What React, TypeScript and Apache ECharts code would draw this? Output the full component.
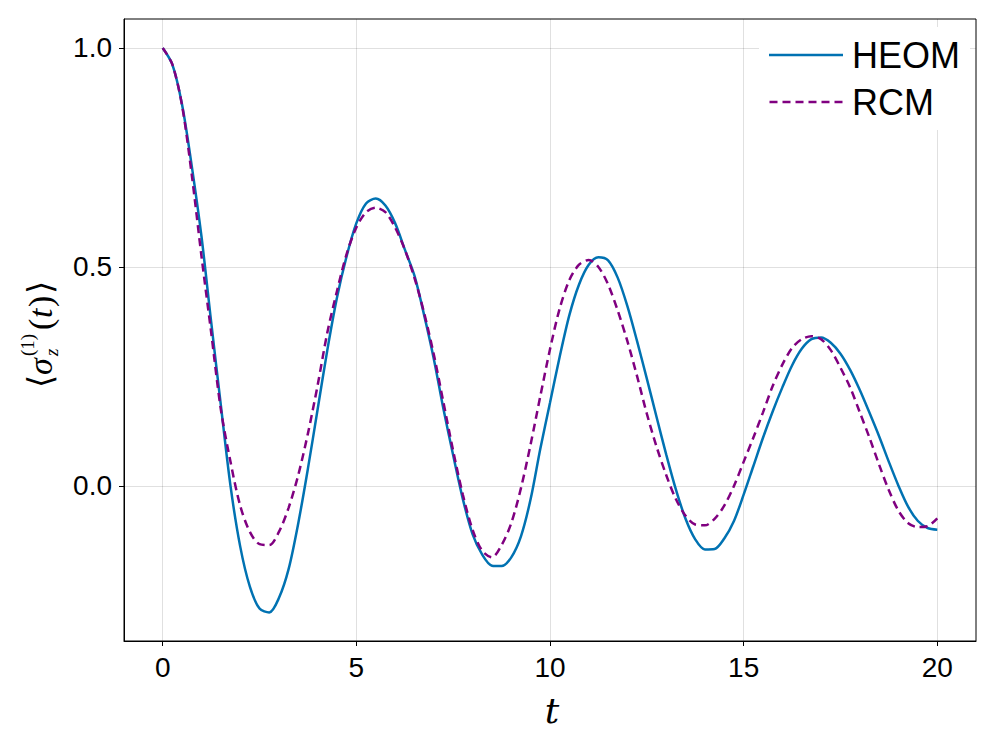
import React, { useEffect, useRef } from "react";
import * as echarts from "echarts";

const timeGrid = [
  0, 0.25, 0.5, 0.75, 1, 1.25, 1.5, 1.75, 2, 2.25, 2.5, 2.75, 3, 3.25, 3.5, 3.75,
  4, 4.25, 4.5, 4.75, 5, 5.25, 5.5, 5.75, 6, 6.25, 6.5, 6.75, 7, 7.25, 7.5, 7.75,
  8, 8.25, 8.5, 8.75, 9, 9.25, 9.5, 9.75, 10, 10.25, 10.5, 10.75, 11, 11.25, 11.5,
  11.75, 12, 12.25, 12.5, 12.75, 13, 13.25, 13.5, 13.75, 14, 14.25, 14.5, 14.75,
  15, 15.25, 15.5, 15.75, 16, 16.25, 16.5, 16.75, 17, 17.25, 17.5, 17.75, 18,
  18.25, 18.5, 18.75, 19, 19.25, 19.5, 19.75, 20,
];
const heomValues = [
  1.0, 0.962, 0.87, 0.73, 0.57, 0.375, 0.185, 0.0, -0.138, -0.23, -0.28, -0.289,
  -0.256, -0.19, -0.085, 0.04, 0.175, 0.31, 0.43, 0.525, 0.6, 0.645, 0.656, 0.64,
  0.6, 0.54, 0.48, 0.39, 0.29, 0.175, 0.07, -0.03, -0.11, -0.157, -0.182, -0.183,
  -0.163, -0.115, -0.03, 0.085, 0.19, 0.295, 0.39, 0.46, 0.505, 0.522, 0.515,
  0.475, 0.41, 0.33, 0.245, 0.158, 0.072, -0.008, -0.075, -0.122, -0.145, -0.144,
  -0.12, -0.08, -0.02, 0.045, 0.11, 0.17, 0.225, 0.275, 0.313, 0.335, 0.339,
  0.327, 0.302, 0.265, 0.219, 0.167, 0.113, 0.055, 0.0, -0.048, -0.08, -0.096,
  -0.1,
];
const rcmValues = [
  1.0, 0.962, 0.868, 0.71, 0.525, 0.351, 0.175, 0.055, -0.045, -0.105, -0.133,
  -0.135, -0.105, -0.05, 0.025, 0.12, 0.23, 0.35, 0.445, 0.53, 0.59, 0.625, 0.635,
  0.625, 0.59, 0.54, 0.475, 0.395, 0.3, 0.19, 0.08, -0.02, -0.1, -0.148, -0.163,
  -0.135, -0.085, -0.005, 0.095, 0.205, 0.312, 0.405, 0.47, 0.505, 0.516, 0.5,
  0.46, 0.4, 0.33, 0.25, 0.165, 0.09, 0.025, -0.03, -0.068, -0.088, -0.09, -0.075,
  -0.045, 0.0, 0.055, 0.11, 0.168, 0.228, 0.277, 0.315, 0.335, 0.342, 0.335, 0.31,
  0.27, 0.225, 0.168, 0.11, 0.048, -0.01, -0.057, -0.085, -0.094, -0.092, -0.074,
];
const xTicks = [0, 5, 10, 15, 20];
const yTicks = [0, 0.5, 1.0];
const seriesNames = ["HEOM", "RCM"];

export default function App() {
  const ref = useRef<HTMLDivElement>(null);
  useEffect(() => {
    if (!ref.current) return;
    const chart = echarts.init(ref.current, null, { renderer: "svg" });
    const sans = "'Liberation Sans', Arial, sans-serif";
    const serif = "'DejaVu Serif', 'Liberation Serif', serif";
    const lserif = "'Liberation Serif', 'DejaVu Serif', serif";
    const solidIcon = "path://M0,0H74V2.5H0Z";
    const dashIcon =
      "path://M0,0H8V2.5H0Z M13,0H21V2.5H13Z M26,0H34V2.5H26Z M39,0H47V2.5H39Z M52,0H60V2.5H52Z M65,0H73V2.5H65Z";
    chart.setOption({
      animation: false,
      backgroundColor: "#fff",
      grid: {
        left: 124,
        right: 20,
        top: 19,
        bottom: 106,
        show: true,
        borderColor: "#000",
        borderWidth: 1,
        backgroundColor: "transparent",
        containLabel: false,
      },
      xAxis: {
        type: "value",
        min: -1,
        max: 21,
        axisLine: { show: true, onZero: false, lineStyle: { color: "#000", width: 1 } },
        axisTick: { show: true, inside: false, length: 5, customValues: xTicks, lineStyle: { color: "#000" } },
        axisLabel: {
          customValues: xTicks,
          margin: 12,
          fontSize: 28,
          fontFamily: sans,
          color: "#000",
        },
        splitLine: { show: true, lineStyle: { color: "rgba(0,0,0,0.12)", width: 1 } },
      },
      yAxis: {
        type: "value",
        min: -0.354,
        max: 1.066,
        axisLine: { show: true, onZero: false, lineStyle: { color: "#000", width: 1 } },
        axisTick: { show: true, inside: false, length: 5, customValues: yTicks, lineStyle: { color: "#000" } },
        axisLabel: {
          customValues: yTicks,
          margin: 12,
          fontSize: 28,
          fontFamily: sans,
          color: "#000",
          formatter: (v: number) => v.toFixed(1),
        },
        splitLine: { show: true, lineStyle: { color: "rgba(0,0,0,0.12)", width: 1 } },
      },
      legend: {
        orient: "vertical",
        left: 759,
        top: 27,
        padding: [8, 10, 8, 10],
        backgroundColor: "#fff",
        itemWidth: 74,
        itemHeight: 2.5,
        itemGap: 7,
        textStyle: { fontSize: 36, fontFamily: sans, color: "#000", lineHeight: 40, padding: [0, 0, 0, 4] },
        data: [
          { name: seriesNames[0], icon: solidIcon, itemStyle: { color: "#0072B2" } },
          { name: seriesNames[1], icon: dashIcon, itemStyle: { color: "#800080" } },
        ],
      },
      series: [
        {
          name: seriesNames[0],
          type: "line",
          data: timeGrid.map((t, i) => [t, heomValues[i]]),
          showSymbol: false,
          symbol: "none",
          smooth: 0.3,
          lineStyle: { color: "#0072B2", width: 2.5 },
          itemStyle: { color: "#0072B2" },
        },
        {
          name: seriesNames[1],
          type: "line",
          data: timeGrid.map((t, i) => [t, rcmValues[i]]),
          showSymbol: false,
          symbol: "none",
          smooth: 0.3,
          lineStyle: { color: "#800080", width: 2.5, type: [8, 5] },
          itemStyle: { color: "#800080" },
        },
      ],
      graphic: [
        {
          type: "text",
          x: 552,
          y: 710,
          style: { text: "t", font: `italic 36px ${serif}`, fill: "#000", align: "center", verticalAlign: "middle" },
        },
        {
          type: "group",
          x: 40,
          y: 330,
          rotation: Math.PI / 2,
          children: [
            { type: "text", x: -58, y: 0, style: { text: "⟨", font: `34px ${serif}`, fill: "#000", verticalAlign: "middle" } },
            { type: "text", x: -45, y: 0, style: { text: "σ", font: `italic 34px ${lserif}`, fill: "#000", verticalAlign: "middle" } },
            { type: "text", x: -26, y: -13, style: { text: "(1)", font: `19px ${lserif}`, fill: "#000", verticalAlign: "middle" } },
            { type: "text", x: -26, y: 11, style: { text: "z", font: `italic 19px ${lserif}`, fill: "#000", verticalAlign: "middle" } },
            { type: "text", x: 0, y: 0, style: { text: "(", font: `34px ${lserif}`, fill: "#000", verticalAlign: "middle" } },
            { type: "text", x: 12, y: 0, style: { text: "t", font: `italic 34px ${lserif}`, fill: "#000", verticalAlign: "middle" } },
            { type: "text", x: 23, y: 0, style: { text: ")", font: `34px ${lserif}`, fill: "#000", verticalAlign: "middle" } },
            { type: "text", x: 36, y: 0, style: { text: "⟩", font: `34px ${serif}`, fill: "#000", verticalAlign: "middle" } },
          ],
        },
      ],
    });
    return () => chart.dispose();
  }, []);
  return <div ref={ref} style={{ width: 996, height: 747, position: "fixed", left: 0, top: 0 }} />;
}
